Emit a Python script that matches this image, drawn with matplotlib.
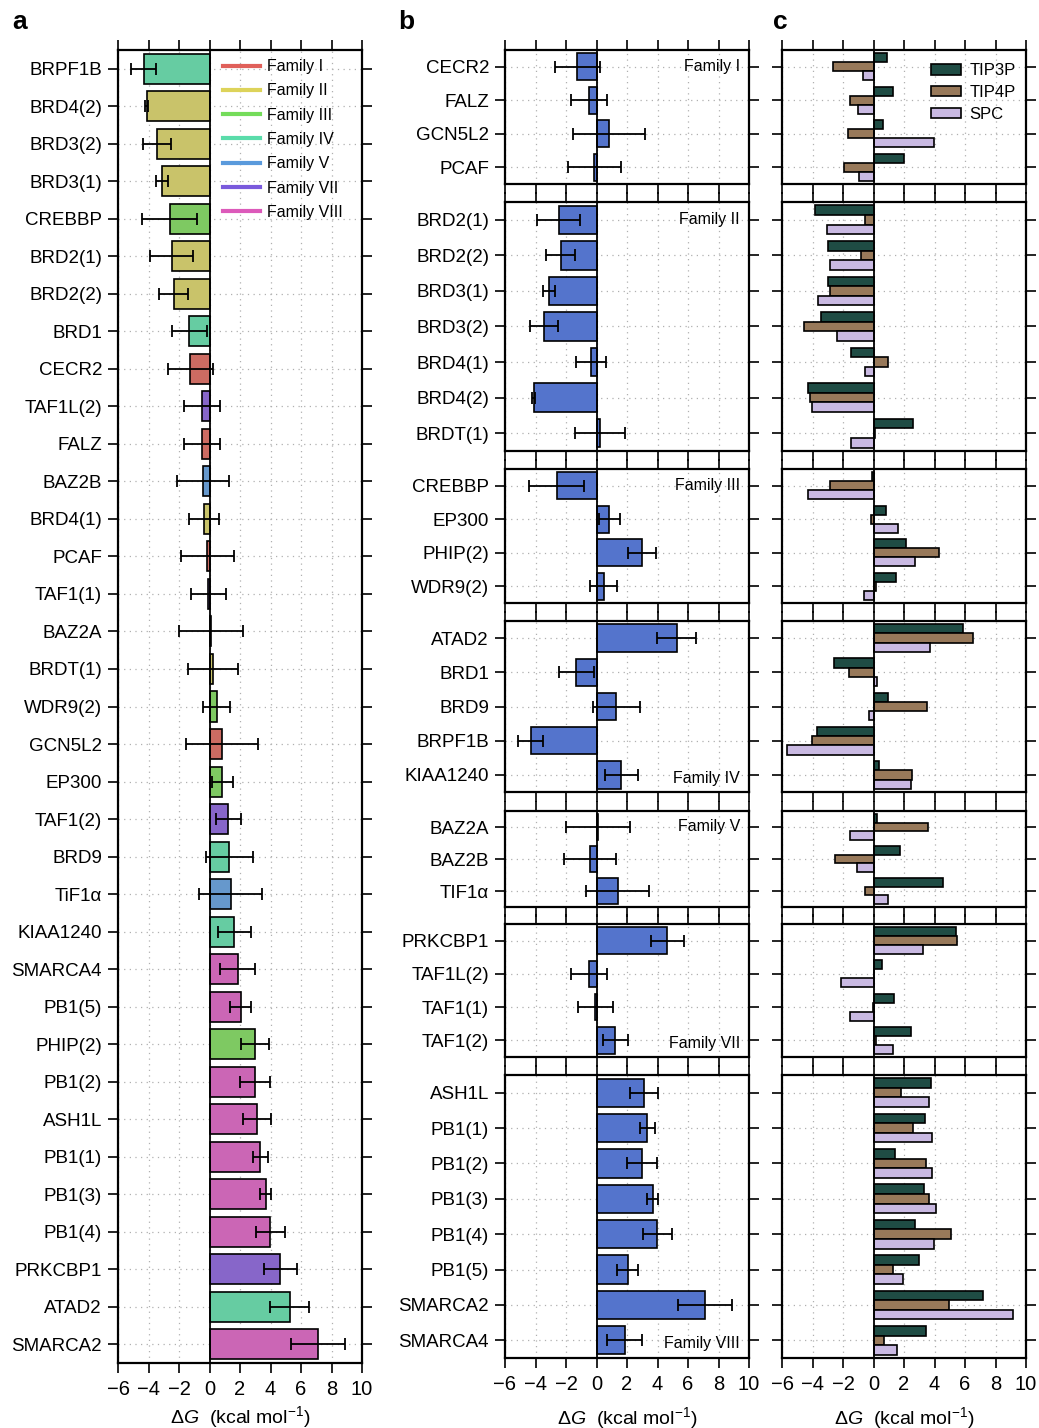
import matplotlib
matplotlib.use('Agg')
import matplotlib.pyplot as plt
from matplotlib.lines import Line2D
import numpy as np

plt.rcParams['font.family'] = ['Liberation Sans', 'DejaVu Sans']
plt.rcParams['mathtext.fontset'] = 'custom'
plt.rcParams['mathtext.rm'] = 'Liberation Sans'
plt.rcParams['mathtext.it'] = 'Liberation Sans:italic'

families = ['Family I', 'Family II', 'Family III', 'Family IV',
            'Family V', 'Family VII', 'Family VIII']
family_sizes = [4, 7, 4, 5, 3, 4, 8]

proteins = ['CECR2', 'FALZ', 'GCN5L2', 'PCAF',
            'BRD2(1)', 'BRD2(2)', 'BRD3(1)', 'BRD3(2)', 'BRD4(1)', 'BRD4(2)', 'BRDT(1)',
            'CREBBP', 'EP300', 'PHIP(2)', 'WDR9(2)',
            'ATAD2', 'BRD1', 'BRD9', 'BRPF1B', 'KIAA1240',
            'BAZ2A', 'BAZ2B', 'TIF1α',
            'PRKCBP1', 'TAF1L(2)', 'TAF1(1)', 'TAF1(2)',
            'ASH1L', 'PB1(1)', 'PB1(2)', 'PB1(3)', 'PB1(4)', 'PB1(5)', 'SMARCA2', 'SMARCA4']

# binding free energy, mean over water models, with error
dg = [-1.25, -0.48, 0.83, -0.15,
      -2.49, -2.34, -3.13, -3.45, -0.37, -4.13, 0.24,
      -2.62, 0.85, 2.96, 0.46,
      5.25, -1.33, 1.31, -4.31, 1.62,
      0.10, -0.42, 1.40,
      4.63, -0.50, -0.07, 1.22,
      3.13, 3.34, 2.99, 3.69, 3.98, 2.05, 7.10, 1.84]
dg_err = [1.50, 1.17, 2.36, 1.74,
          1.38, 0.94, 0.39, 0.90, 0.97, 0.07, 1.62,
          1.80, 0.68, 0.92, 0.89,
          1.26, 1.15, 1.57, 0.83, 1.07,
          2.08, 1.73, 2.07,
          1.08, 1.17, 1.16, 0.82,
          0.93, 0.52, 1.00, 0.35, 0.94, 0.70, 1.78, 1.16]

# per water model
tip3p = [0.90, 1.29, 0.63, 1.99,
         -3.84, -2.97, -2.99, -3.45, -1.48, -4.28, 2.60,
         -0.13, 0.85, 2.12, 1.48,
         5.87, -2.58, 0.98, -3.73, 0.33,
         0.26, 1.72, 4.54,
         5.41, 0.55, 1.33, 2.47,
         3.78, 3.36, 1.44, 3.30, 2.73, 3.01, 7.20, 3.47]
tip4p = [-2.64, -1.51, -1.68, -1.94,
         -0.59, -0.85, -2.84, -4.54, 0.96, -4.15, 0.13,
         -2.82, -0.15, 4.30, 0.17,
         6.53, -1.59, 3.54, -4.02, 2.51,
         3.58, -2.53, -0.59,
         5.48, 0.0, -0.05, 0.15,
         1.79, 2.60, 3.45, 3.62, 5.09, 1.31, 4.98, 0.70]
spc = [-0.68, -1.03, 3.97, -0.96,
       -3.08, -2.86, -3.67, -2.38, -0.57, -4.02, -1.46,
       -4.28, 1.59, 2.73, -0.63,
       3.69, 0.24, -0.28, -5.70, 2.49,
       -1.53, -1.11, 0.96,
       3.23, -2.16, -1.57, 1.29,
       3.67, 3.84, 3.84, 4.13, 3.95, 1.92, 9.15, 1.57]
water_models = ['TIP3P', 'TIP4P', 'SPC']

line_colors = ['#e0605a', '#ddd35a', '#74dc5a', '#5adcaa', '#5a9adc', '#7a5adc', '#dc5aba']
bar_colors = ['#cc6b62', '#c9c36a', '#7ec962', '#66cca2', '#6698cc', '#8766c9', '#cb66b5']
water_colors = ['#1f4c44', '#98795a', '#c9b9e2']
label_at_bottom = [False, False, False, True, False, True, True]

W, H = 1039, 1428
fig = plt.figure(figsize=(W / 100, H / 100), dpi=100)


def px_rect(left, right, top, bottom):
    return [left / W, 1 - bottom / H, (right - left) / W, (bottom - top) / H]


def style(ax, show_xlabels, labelpad=8):
    ax.set_xlim(-6, 10)
    ax.set_xticks(range(-6, 11, 2))
    ax.tick_params(direction='out', length=7, width=1.2, top=True, right=True,
                   labelsize=13.5, pad=4.5)
    ax.tick_params(axis='x', labelbottom=show_xlabels, labelsize=14.5, pad=5)
    for s in ax.spines.values():
        s.set_linewidth(1.6)
    ax.grid(True, ls=(0, (1, 3.5)), color='#b0b0b0', lw=0.9)
    ax.set_axisbelow(True)
    ax.axvline(0, color='k', lw=1.3, zorder=3)
    if show_xlabels:
        ax.set_xlabel(r'$\Delta G$  (kcal mol$^{-1}$)', fontsize=14, labelpad=labelpad)


fam_idx = np.repeat(np.arange(len(families)), family_sizes)
dg_arr = np.array(dg)
err_arr = np.array(dg_err)

# a: all bromodomains sorted by dG
ax_a = fig.add_axes(px_rect(118, 362, 50, 1363))
order = np.argsort(dg_arr, kind='stable')
ya = np.arange(len(order))
ax_a.barh(ya, dg_arr[order], height=0.8, color=[bar_colors[fam_idx[i]] for i in order],
          edgecolor='k', lw=1.2, zorder=2)
ax_a.errorbar(dg_arr[order], ya, xerr=err_arr[order], fmt='none', ecolor='k',
              elinewidth=1.3, capsize=4, capthick=1.3, zorder=4)
ax_a.set_yticks(ya)
ax_a.set_yticklabels([proteins[i].replace('TIF1', 'TiF1') for i in order])
ax_a.set_ylim(len(order) - 0.5, -0.5)
style(ax_a, True, labelpad=4)
ax_a.tick_params(axis='y', labelright=False)
handles = [Line2D([], [], color=c, lw=3) for c in line_colors]
ax_a.legend(handles, families, loc='upper left', bbox_to_anchor=(0.43, 0.993),
            frameon=False, fontsize=11.5, handlelength=2.3, handletextpad=0.45,
            labelspacing=0.58, borderpad=0, borderaxespad=0)

# b, c: grouped by family
tops = [50, 202, 469, 621, 811, 924, 1075]
bottoms = [184, 451, 603, 792, 907, 1057, 1358]
starts = np.concatenate([[0], np.cumsum(family_sizes)[:-1]])
for k in range(len(families)):
    idx = np.arange(starts[k], starts[k] + family_sizes[k])
    y = np.arange(len(idx))
    last = k == len(families) - 1

    ax_b = fig.add_axes(px_rect(505, 749, tops[k], bottoms[k]))
    ax_b.barh(y, dg_arr[idx], height=0.8, color='#5474cc', edgecolor='k', lw=1.2, zorder=2)
    ax_b.errorbar(dg_arr[idx], y, xerr=err_arr[idx], fmt='none', ecolor='k',
                  elinewidth=1.3, capsize=4, capthick=1.3, zorder=4)
    ax_b.set_yticks(y)
    ax_b.set_yticklabels([proteins[i] for i in idx])
    ax_b.set_ylim(len(idx) - 0.5, -0.5)
    style(ax_b, last)
    ax_b.tick_params(axis='y', labelright=False)
    ty = len(idx) - 1 + 0.1 if label_at_bottom[k] else 0
    ax_b.text(9.4, ty, families[k], ha='right', va='center', fontsize=11.5)

    ax_c = fig.add_axes(px_rect(782, 1026, tops[k], bottoms[k]))
    for j, vals in enumerate([tip3p, tip4p, spc]):
        ax_c.barh(y + (j - 1) * 0.27, np.array(vals)[idx], height=0.27,
                  color=water_colors[j], edgecolor='k', lw=1.2, zorder=2,
                  label=water_models[j])
    ax_c.set_yticks(y)
    ax_c.set_yticklabels([])
    ax_c.set_ylim(len(idx) - 0.5, -0.5)
    style(ax_c, last)
    if k == 0:
        ax_c.legend(loc='upper left', bbox_to_anchor=(0.61, 0.9), frameon=False,
                    fontsize=12, handlelength=1.8, handleheight=0.6,
                    handletextpad=0.5, labelspacing=0.4, borderpad=0, borderaxespad=0)

for lab, x in zip(['a', 'b', 'c'], [12, 398, 773]):
    fig.text(x / W, 1 - 22 / H, lab, fontsize=19, fontweight='bold', va='center', ha='left')

fig.savefig('out.png', dpi=100)
